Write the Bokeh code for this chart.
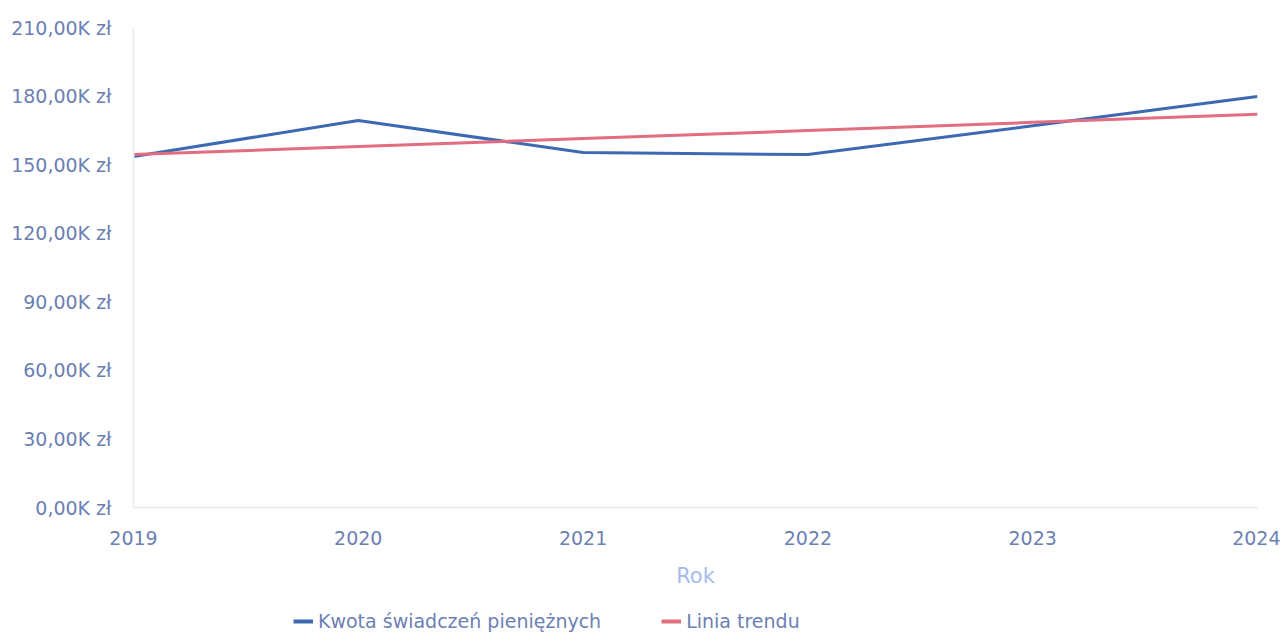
from bokeh.plotting import figure
from bokeh.layouts import column
from bokeh.models import (ColumnDataSource, FixedTicker, CustomJSTickFormatter,
                          Legend, LegendItem, Range1d)
from bokeh.embed import file_html
from bokeh.resources import INLINE

years = [2019, 2020, 2021, 2022, 2023, 2024]
kwota = [153600, 169300, 155300, 154400, 167000, 179800]
trend = [154400, 157900, 161400, 164900, 168500, 172000]
y_ticks = [0, 30000, 60000, 90000, 120000, 150000, 180000, 210000]
x_ticks = [2019, 2020, 2021, 2022, 2023, 2024]
series_names = ["Kwota świadczeń pieniężnych", "Linia trendu"]

FONT = "DejaVu Sans"
TICK_COLOR = "#6C7FB3"
BLUE = "#3D69B3"
PINK = "#E26D80"

src = ColumnDataSource(dict(year=years, kwota=kwota, trend=trend))

W = 1280
p = figure(width=W, height=600, output_backend="svg", toolbar_location=None,
           x_range=Range1d(2019, 2024), y_range=Range1d(0, 210000),
           min_border_left=133, min_border_right=W - 1257, min_border_top=27,
           min_border_bottom=93)
p.outline_line_color = None
p.xgrid.visible = False
p.ygrid.visible = False

p.line("year", "kwota", source=src, line_color=BLUE, line_width=3)
p.line("year", "trend", source=src, line_color=PINK, line_width=3)

p.yaxis.ticker = FixedTicker(ticks=y_ticks)
p.yaxis.formatter = CustomJSTickFormatter(
    code="return (tick/1000).toFixed(2).replace('.', ',') + 'K z\u0142';")
p.xaxis.ticker = FixedTicker(ticks=x_ticks)

for ax in (p.xaxis[0], p.yaxis[0]):
    ax.axis_line_color = "#EEEEEE"
    ax.axis_line_width = 2
    ax.major_tick_line_color = None
    ax.minor_tick_line_color = None
    ax.major_label_text_color = TICK_COLOR
    ax.major_label_text_font = FONT
    ax.major_label_text_font_size = "19px"

p.yaxis.major_label_standoff = 16
p.xaxis.major_label_standoff = 17
p.xaxis.axis_label = "Rok"
p.xaxis.axis_label_text_font = FONT
p.xaxis.axis_label_text_font_style = "normal"
p.xaxis.axis_label_text_font_size = "21px"
p.xaxis.axis_label_text_color = "#A8BCEB"
p.xaxis.axis_label_standoff = 16

# legend strip below the chart (its frame is aligned with the chart's frame)
q = figure(width=W, height=32, output_backend="svg", toolbar_location=None,
           x_range=Range1d(0, 1), y_range=Range1d(0, 1),
           min_border=0, outline_line_color=None)
q.axis.visible = False
q.grid.visible = False
lr1 = q.line(x=[5, 6], y=[5, 6], line_color=BLUE, line_width=4)
lr2 = q.line(x=[5, 6], y=[5, 6], line_color=PINK, line_width=4)
legend = Legend(items=[LegendItem(label=series_names[0], renderers=[lr1]),
                       LegendItem(label=series_names[1], renderers=[lr2])],
                orientation="horizontal", location=(160, 0),
                label_text_font=FONT, label_text_font_size="19px",
                label_text_color=TICK_COLOR, glyph_width=20, glyph_height=22,
                label_standoff=5, spacing=60, padding=0, margin=0,
                border_line_color=None, background_fill_alpha=0)
q.add_layout(legend, "center")

open("out.html", "w").write(file_html(column(p, q, spacing=0), INLINE))
